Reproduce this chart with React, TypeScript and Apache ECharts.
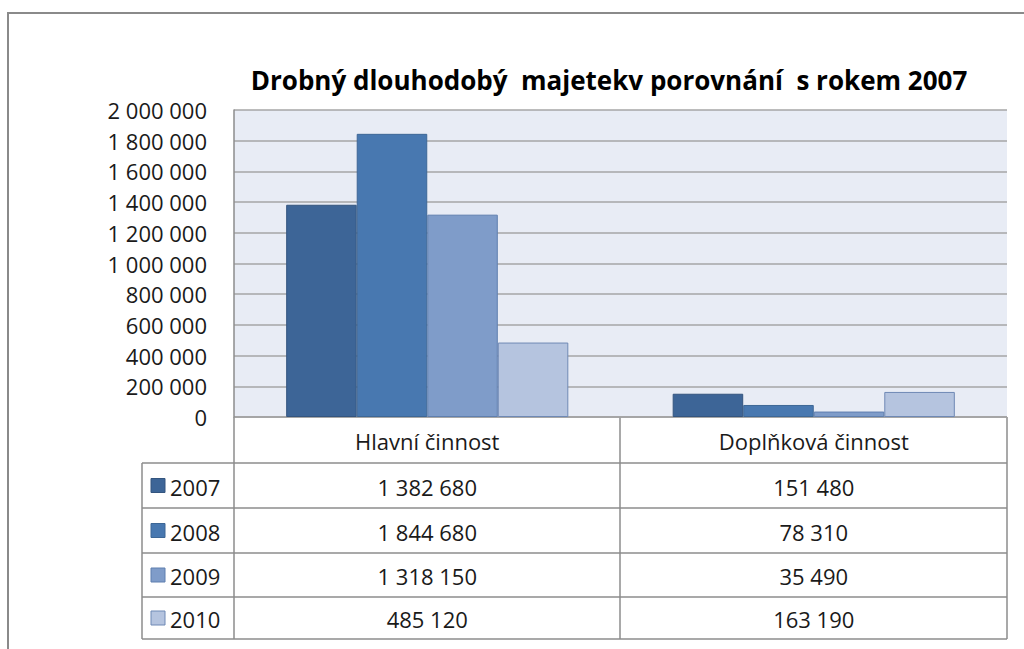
import React, { useEffect, useRef } from "react";
import * as echarts from "echarts";

const titleText = "Drobný dlouhodobý  majetekv porovnání  s rokem 2007";
const categories = ["Hlavní činnost", "Doplňková činnost"];
const seriesNames = ["2007", "2008", "2009", "2010"];
const values2007 = [1382680, 151480];
const values2008 = [1844680, 78310];
const values2009 = [1318150, 35490];
const values2010 = [485120, 163190];
const seriesValues = [values2007, values2008, values2009, values2010];
const colors = ["#3D6597", "#4878B0", "#7F9CC9", "#B5C4DF"];
const borderColors = ["#34557F", "#3D6796", "#5F7FAF", "#6F89B5"];
const yTicks = [0, 200000, 400000, 600000, 800000, 1000000, 1200000, 1400000, 1600000, 1800000, 2000000];

const FONT = "'Open Sans', 'Noto Sans', sans-serif";
const FS = 22;
const TXT = "#1a1a1a";
const fmt = (v: number) => String(v).replace(/\B(?=(\d{3})+(?!\d))/g, " ");

// layout
const GL = 234, GR = 1007, GT = 110, GB = 417;
const rowLines = [463, 508, 553, 597, 639];
const tableLeft = 142;
const colMid = 620;
const LINE = "#8C8C8C";

export default function App() {
  const ref = useRef<HTMLDivElement>(null);
  useEffect(() => {
    document.body.style.margin = "0";
    const chart = echarts.init(ref.current!, undefined, { renderer: "svg" });
    const rowCenters = rowLines.slice(0, 4).map((y, i) => (y + rowLines[i + 1]) / 2);
    const extraAxes = seriesValues.map((vals, i) => ({
      type: "category" as const,
      data: categories,
      position: "bottom" as const,
      offset: 0,
      axisLine: { show: false },
      axisTick: { show: false },
      splitLine: { show: false },
      axisLabel: {
        interval: 0,
        margin: rowCenters[i] - GB + 1,
        verticalAlign: "middle" as const,
        fontFamily: FONT,
        fontSize: FS,
        color: TXT,
        formatter: (_v: string, idx: number) => fmt(vals[idx]),
      },
    }));
    const gfx: any[] = [];
    const seg = (x1: number, y1: number, x2: number, y2: number) =>
      gfx.push({ type: "line", shape: { x1, y1, x2, y2 }, style: { stroke: LINE, lineWidth: 1.5 }, silent: true });
    seg(GL, GB, GR, GB);
    rowLines.forEach((y) => seg(tableLeft, y, GR, y));
    seg(tableLeft, rowLines[0], tableLeft, rowLines[4]);
    seg(GL, GB, GL, rowLines[4]);
    seg(colMid, GB, colMid, rowLines[4]);
    seg(GR, GB, GR, rowLines[4]);
    seriesNames.forEach((name, i) => {
      gfx.push({
        type: "rect",
        shape: { x: 151, y: rowCenters[i] - 7, width: 14, height: 14 },
        style: { fill: colors[i], stroke: borderColors[i], lineWidth: 1 },
        silent: true,
      });
      gfx.push({
        type: "text",
        x: 170,
        y: rowCenters[i] + 1,
        style: { text: name, fontFamily: FONT, fontSize: FS, fill: TXT, verticalAlign: "middle", align: "left" },
        silent: true,
      });
    });
    gfx.push({
      type: "rect",
      shape: { x: 8, y: 13, width: 1100, height: 700 },
      style: { fill: "none", stroke: "#8A8A8A", lineWidth: 2 },
      silent: true,
    });

    chart.setOption({
      animation: false,
      backgroundColor: "#ffffff",
      title: {
        text: titleText,
        left: 604,
        top: 62,
        textAlign: "center",
        textStyle: { fontFamily: FONT, fontSize: 26, fontWeight: "bold", color: "#000" },
      },
      grid: {
        left: GL,
        right: 1024 - GR,
        top: GT,
        bottom: 649 - GB,
        show: true,
        backgroundColor: "#E8ECF5",
        borderWidth: 0,
      },
      xAxis: [
        {
          type: "category",
          data: categories,
          axisLine: { show: false },
          axisTick: { show: false },
          axisLabel: {
            interval: 0,
            margin: (rowLines[0] - GB) / 2 + 1,
            verticalAlign: "middle",
            fontFamily: FONT,
            fontSize: FS,
            color: TXT,
          },
        },
        ...extraAxes,
      ],
      yAxis: {
        type: "value",
        min: yTicks[0],
        max: yTicks[yTicks.length - 1],
        interval: yTicks[1] - yTicks[0],
        axisLine: { show: true, lineStyle: { color: LINE, width: 1.5 } },
        axisTick: { show: false },
        axisLabel: {
          margin: 27,
          fontFamily: FONT,
          fontSize: FS,
          color: TXT,
          formatter: (v: number) => fmt(v),
        },
        splitLine: { lineStyle: { color: "#A6A6A6", width: 1.5 } },
      },
      series: seriesNames.map((name, i) => ({
        name,
        type: "bar",
        data: seriesValues[i],
        barGap: "0%",
        barCategoryGap: "27%",
        itemStyle: { color: colors[i], borderColor: borderColors[i], borderWidth: 1 },
      })),
      graphic: gfx,
    });
    return () => chart.dispose();
  }, []);
  return <div ref={ref} style={{ width: 1024, height: 649 }} />;
}
